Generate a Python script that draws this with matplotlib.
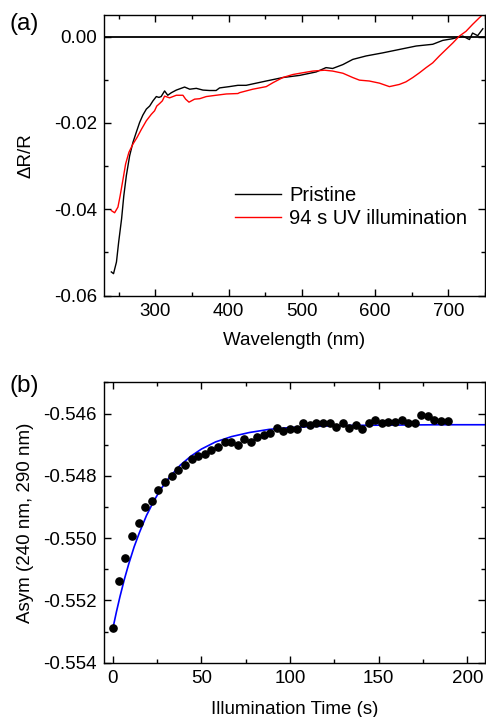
import matplotlib
matplotlib.use("Agg")
import matplotlib.pyplot as plt
from matplotlib.ticker import MultipleLocator, FormatStrFormatter

plt.rcParams['font.family'] = ['Liberation Sans', 'DejaVu Sans']

# panel (a): spectra
wl_pristine = [240, 243, 247, 250, 254, 257, 260.5, 265, 269.5, 274, 278.6, 283, 287.8, 292.3,
               296.8, 301.4, 305, 308, 312.7, 317, 322, 328.7, 340, 347, 356, 365, 374, 383,
               387.7, 401, 412.7, 424, 451.4, 474, 497, 519.6, 533, 542, 556, 569.5, 587.7,
               610, 633, 656, 678.6, 692.3, 706, 719.6, 728.7, 733, 740, 747]
dr_pristine = [-0.0545, -0.0549, -0.0522, -0.0476, -0.0422, -0.0369, -0.0322, -0.0276, -0.0245,
               -0.0222, -0.0199, -0.0182, -0.0168, -0.0161, -0.0149, -0.0139, -0.0141, -0.0139,
               -0.0126, -0.0136, -0.0130, -0.0124, -0.0117, -0.0122, -0.0120, -0.0124, -0.0125,
               -0.0125, -0.0119, -0.0116, -0.0113, -0.0113, -0.0103, -0.0095, -0.0090, -0.0082,
               -0.0072, -0.0074, -0.0065, -0.0053, -0.0045, -0.0038, -0.0030, -0.0022, -0.0018,
               -0.0009, -0.0005, 0.0001, -0.0007, 0.0008, 0.0002, 0.0018]

wl_uv = [240, 244.5, 249, 252, 256, 259.5, 264, 269.5, 275, 281, 287.8, 294.6, 299, 302, 306,
         309.6, 312.7, 319.5, 328.7, 337.7, 341.4, 346, 353.6, 360.5, 369.6, 383, 397, 412.7,
         415, 433, 451.4, 460.5, 474, 487.7, 501, 515, 531, 542, 556, 569.5, 578.6, 592, 606,
         619.5, 633, 642, 651.4, 660.5, 669.6, 678.6, 687.7, 696.8, 706, 715, 724, 733, 742, 747]
dr_uv = [-0.0403, -0.0408, -0.0395, -0.0369, -0.0330, -0.0295, -0.0268, -0.0249, -0.0234,
         -0.0215, -0.0195, -0.0180, -0.0172, -0.0161, -0.0155, -0.0149, -0.0138, -0.0142,
         -0.0136, -0.0136, -0.0145, -0.0152, -0.0145, -0.0144, -0.0139, -0.0136, -0.0133,
         -0.0132, -0.0130, -0.0122, -0.0116, -0.0107, -0.0095, -0.0088, -0.0084, -0.0080,
         -0.0078, -0.0080, -0.0085, -0.0095, -0.0101, -0.0103, -0.0108, -0.0116, -0.0111,
         -0.0105, -0.0095, -0.0084, -0.0072, -0.0061, -0.0045, -0.0030, -0.0015, 0.0001,
         0.0012, 0.0028, 0.0043, 0.0051]

# panel (b): asymmetry vs illumination time
t_meas = [0, 3.6, 7.1, 10.9, 14.6, 18.4, 22.1, 25.7, 29.5, 33.2, 37.0, 40.7, 44.5, 48.2,
          51.8, 55.5, 59.3, 63.0, 66.8, 70.4, 74.1, 77.9, 81.4, 85.2, 88.9, 92.5, 96.2,
          100.0, 103.7, 107.3, 111.0, 114.8, 118.6, 122.3, 125.9, 129.6, 133.2, 137.0,
          140.7, 144.3, 148.0, 151.8, 155.5, 159.3, 163.0, 166.8, 170.3, 174.1, 177.9,
          181.4, 185.2, 188.9]
asym_meas = [-0.55290, -0.55137, -0.55065, -0.54994, -0.54953, -0.54899, -0.54880, -0.54847,
             -0.54820, -0.54800, -0.54780, -0.54766, -0.54745, -0.54737, -0.54730, -0.54716,
             -0.54707, -0.54690, -0.54690, -0.54700, -0.54683, -0.54693, -0.54675, -0.54670,
             -0.54664, -0.54646, -0.54657, -0.54649, -0.54651, -0.54632, -0.54638, -0.54629,
             -0.54629, -0.54631, -0.54643, -0.54631, -0.54646, -0.54638, -0.54651, -0.54630,
             -0.54622, -0.54632, -0.54627, -0.54627, -0.54622, -0.54630, -0.54630, -0.54604,
             -0.54609, -0.54620, -0.54625, -0.54625]

t_fit = [0, 2, 4, 6.5, 9, 12, 15, 19, 23, 27, 32, 38, 44, 50, 58, 67, 77, 88, 100, 115,
         135, 160, 185, 210]
asym_fit = [-0.55290, -0.55237, -0.55188, -0.55132, -0.55082, -0.55028, -0.54982, -0.54927,
            -0.54882, -0.54843, -0.54804, -0.54766, -0.54737, -0.54714, -0.54691, -0.54674,
            -0.54661, -0.54651, -0.54645, -0.54641, -0.54638, -0.54637, -0.54636, -0.54636]


def estilo(ax):
    for s in ax.spines.values():
        s.set_linewidth(1.0)
    ax.tick_params(which='both', direction='in', top=True, right=True, labelsize=13.5)
    ax.tick_params(which='major', length=5, width=1, pad=5)
    ax.tick_params(which='minor', length=3, width=1)


fig = plt.figure(figsize=(4.86, 7.17), dpi=100)

# (a)
ax1 = fig.add_axes([0.214, 0.5876, 0.784, 0.3916])
ax1.axhline(0, color='black', lw=1.3)
ax1.plot(wl_pristine, dr_pristine, color='black', lw=1.0, label='Pristine')
ax1.plot(wl_uv, dr_uv, color='red', lw=1.0, label='94 s UV illumination')
ax1.set_xlim(230, 750)
ax1.set_ylim(-0.06, 0.005)
ax1.xaxis.set_major_locator(MultipleLocator(100))
ax1.xaxis.set_minor_locator(MultipleLocator(50))
ax1.yaxis.set_major_locator(MultipleLocator(0.02))
ax1.yaxis.set_minor_locator(MultipleLocator(0.01))
ax1.yaxis.set_major_formatter(FormatStrFormatter('%.2f'))
estilo(ax1)
ax1.set_xlabel('Wavelength (nm)', fontsize=13.5, labelpad=9)
ax1.set_ylabel('ΔR/R', fontsize=13.5, labelpad=14)
ax1.legend(loc='lower right', bbox_to_anchor=(1.0, 0.175), frameon=False, fontsize=14.5,
           handlelength=2.3, handletextpad=0.4, labelspacing=0.2)
fig.text(0.02, 0.966, '(a)', fontsize=17.5, va='center')

# (b)
ax2 = fig.add_axes([0.214, 0.0757, 0.784, 0.391])
ax2.plot(t_fit, asym_fit, color='blue', lw=1.2, zorder=2)
ax2.plot(t_meas, asym_meas, 'o', color='black', ms=5.2, zorder=3)
ax2.set_xlim(-5, 210)
ax2.set_ylim(-0.554, -0.545)
ax2.xaxis.set_major_locator(MultipleLocator(50))
ax2.xaxis.set_minor_locator(MultipleLocator(25))
ax2.yaxis.set_major_locator(MultipleLocator(0.002))
ax2.yaxis.set_minor_locator(MultipleLocator(0.001))
ax2.yaxis.set_major_formatter(FormatStrFormatter('%.3f'))
estilo(ax2)
ax2.set_xlabel('Illumination Time (s)', fontsize=13.5, labelpad=10)
ax2.set_ylabel('Asym (240 nm, 290 nm)', fontsize=13.5, labelpad=7)
fig.text(0.02, 0.462, '(b)', fontsize=17.5, va='center')

fig.savefig('out.png', dpi=100)
